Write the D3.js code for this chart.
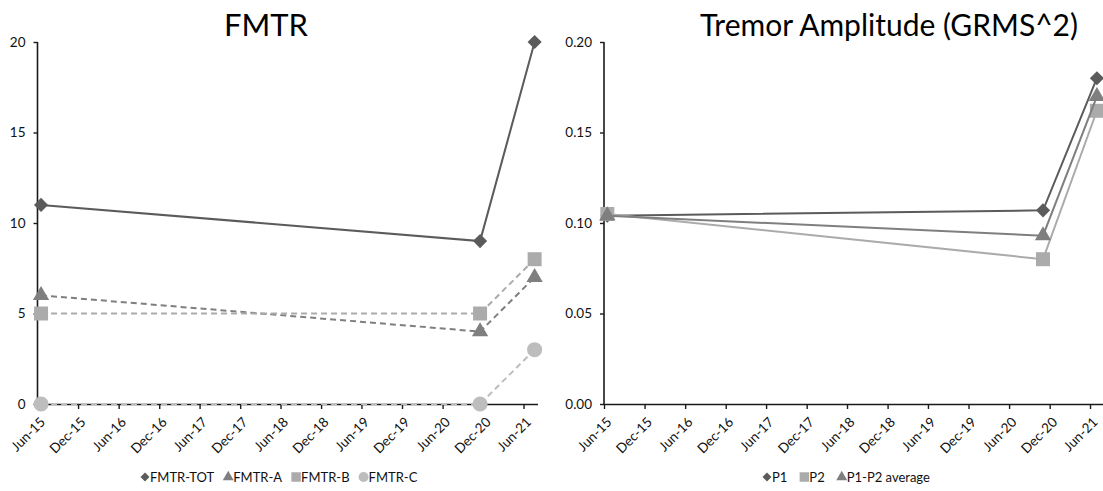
<!DOCTYPE html>
<html>
<head>
<meta charset="utf-8">
<script src="https://cdn.jsdelivr.net/npm/d3@7"></script>
<style>
  html, body { margin: 0; padding: 0; background: #fff; }
  svg { display: block; font-family: Lato, "Open Sans", sans-serif; }
</style>
</head>
<body>
<svg id="chart" width="1103" height="491"></svg>
<script>
// ---------- data ----------
const xTickLabels = ["Jun-15","Dec-15","Jun-16","Dec-16","Jun-17","Dec-17","Jun-18","Dec-18","Jun-19","Dec-19","Jun-20","Dec-20","Jun-21"];
const xDomain = ["2015-06-01", "2021-08-03"];

// FMTR chart
const fmtrDates = ["2015-06-17", "2020-11-17", "2021-07-21"];
const fmtrTot = [11, 9, 20];
const fmtrA = [6, 4, 7];
const fmtrB = [5, 5, 8];
const fmtrC = [0, 0, 3];
const fmtrYTicks = [0, 5, 10, 15, 20];

// Tremor amplitude chart
const tremorDates = ["2015-06-16", "2020-11-01", "2021-07-02"];
const p1 = [0.104, 0.107, 0.180];
const p2 = [0.105, 0.080, 0.162];
const p1p2Avg = [0.104, 0.093, 0.170];
const tremorYTicks = [0.00, 0.05, 0.10, 0.15, 0.20];

// ---------- helpers ----------
const parseDay = d3.timeParse("%Y-%m-%d");
const parseTick = d3.timeParse("%b-%y");
const svg = d3.select("#chart");

const symbols = {
  diamond: d3.symbol().type(d3.symbolSquare).size(100),
  triangle: d3.symbol().type(d3.symbolTriangle).size(115),
  square: d3.symbol().type(d3.symbolSquare).size(196),
  circle: d3.symbol().type(d3.symbolCircle).size(180)
};
const legendSymbols = {
  diamond: d3.symbol().type(d3.symbolSquare).size(40),
  triangle: d3.symbol().type(d3.symbolTriangle).size(52),
  square: d3.symbol().type(d3.symbolSquare).size(90),
  circle: d3.symbol().type(d3.symbolCircle).size(80)
};

function drawChart(cfg) {
  const g = svg.append("g");
  const x = d3.scaleTime().domain(xDomain.map(parseDay)).range([cfg.left, cfg.right]);
  const y = d3.scaleLinear().domain(cfg.yDomain).range([404, 42]);

  // title
  g.append("text")
    .attr("x", cfg.titleX).attr("y", 36)
    .attr("text-anchor", "middle")
    .attr("font-size", cfg.titleSize)
    .attr("fill", "#000")
    .text(cfg.title);

  // y axis
  const yAxis = g.append("g")
    .attr("transform", `translate(${cfg.left},0)`)
    .call(d3.axisLeft(y).tickValues(cfg.yTicks).tickFormat(cfg.yFormat).tickSize(4).tickPadding(8));
  yAxis.select(".domain").attr("stroke", "#1a1a1a").attr("stroke-width", 1.6).attr("d", `M0,${y(cfg.yDomain[1])}V${y(0)}`);
  yAxis.selectAll(".tick line").attr("stroke", "#1a1a1a").attr("stroke-width", 1.4);
  yAxis.selectAll("text").attr("font-size", 13.5).attr("fill", "#111").attr("font-family", "Lato, sans-serif");

  // x axis
  const xAxis = g.append("g")
    .attr("transform", `translate(0,${y(0)})`)
    .call(d3.axisBottom(x).tickValues(xTickLabels.map(parseTick)).tickFormat(d3.timeFormat("%b-%y")).tickSize(5).tickSizeOuter(0));
  xAxis.select(".domain").attr("stroke", "#1a1a1a").attr("stroke-width", 1.6);
  xAxis.selectAll(".tick line").attr("stroke", "#1a1a1a").attr("stroke-width", 1.4);
  xAxis.selectAll("text")
    .attr("font-size", 13.5).attr("fill", "#111").attr("font-family", "Lato, sans-serif")
    .attr("text-anchor", "end")
    .attr("x", 0).attr("y", 0).attr("dy", "0")
    .attr("transform", "translate(8,19) rotate(-45)");

  // series
  const dates = cfg.dates.map(parseDay);
  cfg.series.forEach(s => {
    const pts = s.values.map((v, i) => [x(dates[i]), y(v)]);
    g.append("path")
      .attr("d", d3.line()(pts))
      .attr("fill", "none")
      .attr("stroke", s.color)
      .attr("stroke-width", 2)
      .attr("stroke-dasharray", s.dash || null);
    g.selectAll(null).data(pts).enter().append("path")
      .attr("d", symbols[s.symbol]())
      .attr("fill", s.color)
      .attr("transform", d => `translate(${d[0]},${d[1]})` + (s.symbol === "diamond" ? " rotate(45)" : ""));
  });

  // legend
  const lg = g.append("g").attr("transform", `translate(0,477)`);
  let cx = cfg.legendX;
  cfg.series.forEach(s => {
    lg.append("path")
      .attr("d", legendSymbols[s.symbol]())
      .attr("fill", s.color)
      .attr("transform", `translate(${cx + 5},0)` + (s.symbol === "diamond" ? " rotate(45)" : ""));
    const t = lg.append("text")
      .attr("x", cx + 10).attr("y", 0).attr("dy", "0.36em")
      .attr("font-size", 13).attr("fill", "#111")
      .text(s.name);
    cx += 10 + t.node().getComputedTextLength() + cfg.legendGap;
  });
}

drawChart({
  left: 37.5, right: 537.5,
  yDomain: [0, 20], yTicks: fmtrYTicks, yFormat: d3.format("d"),
  title: "FMTR", titleX: 266, titleSize: 31,
  dates: fmtrDates,
  legendX: 140, legendGap: 9,
  series: [
    { name: "FMTR-TOT", values: fmtrTot, color: "#5b5b5b", symbol: "diamond" },
    { name: "FMTR-A", values: fmtrA, color: "#7f7f7f", symbol: "triangle", dash: "6,4" },
    { name: "FMTR-B", values: fmtrB, color: "#ababab", symbol: "square", dash: "6,4" },
    { name: "FMTR-C", values: fmtrC, color: "#bdbdbd", symbol: "circle", dash: "6,4" }
  ]
});

drawChart({
  left: 604, right: 1104,
  yDomain: [0, 0.2], yTicks: tremorYTicks, yFormat: d3.format(".2f"),
  title: "Tremor Amplitude (GRMS^2)", titleX: 889, titleSize: 30,
  dates: tremorDates,
  legendX: 762, legendGap: 12,
  series: [
    { name: "P1", values: p1, color: "#5b5b5b", symbol: "diamond" },
    { name: "P2", values: p2, color: "#ababab", symbol: "square" },
    { name: "P1-P2 average", values: p1p2Avg, color: "#7f7f7f", symbol: "triangle" }
  ]
});
</script>
</body>
</html>
